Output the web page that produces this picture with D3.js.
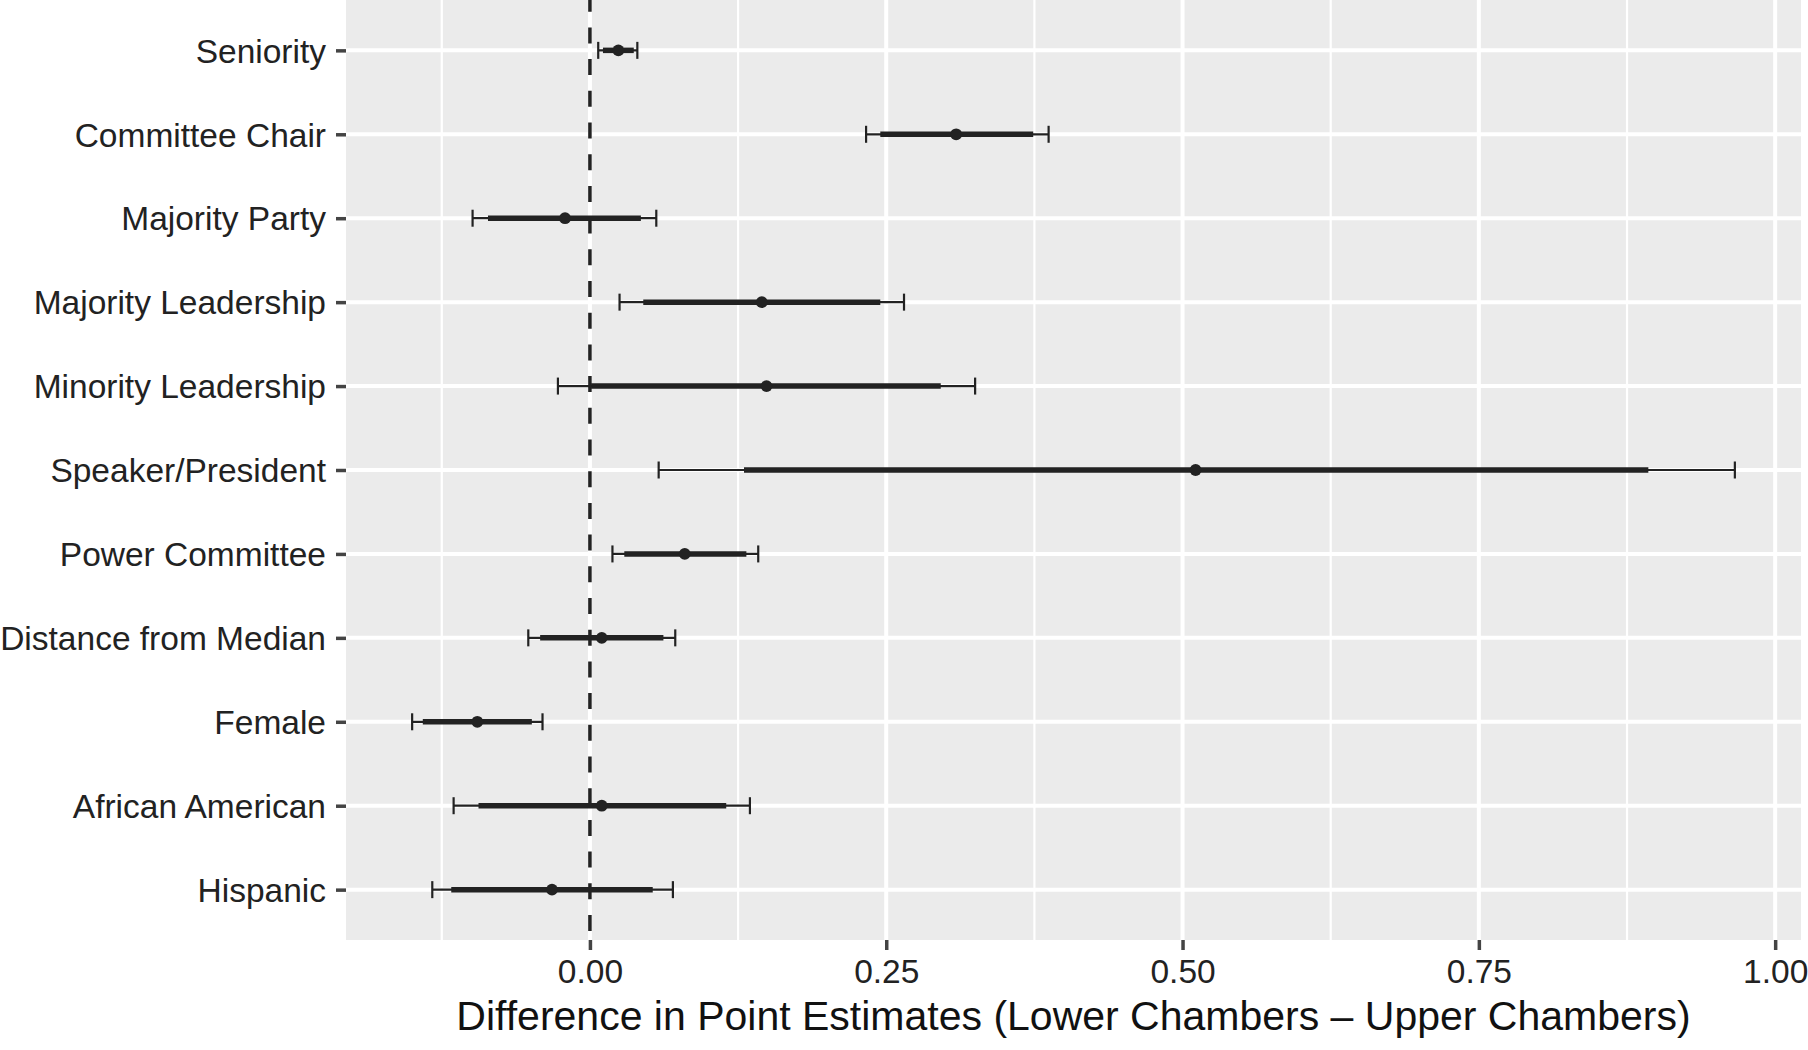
<!DOCTYPE html>
<html>
<head>
<meta charset="utf-8">
<script src="https://cdn.jsdelivr.net/npm/d3@7"></script>
<style>
    body { margin: 0; background: #fff; }
    text { font-family: "Liberation Sans", Arial, Helvetica, sans-serif; }
</style>
</head>
<body>
<div id="chart"></div>
<script>
// Variables, top to bottom
const labels = ["Seniority", "Committee Chair", "Majority Party", "Majority Leadership",
    "Minority Leadership", "Speaker/President", "Power Committee", "Distance from Median",
    "Female", "African American", "Hispanic"];

// point estimates and intervals (thick = inner, thin = outer with caps)
const estimate = [0.024, 0.309, -0.021, 0.145, 0.149, 0.511, 0.080, 0.010, -0.095, 0.010, -0.032];
const innerLow = [0.011, 0.245, -0.086, 0.045, 0.001, 0.130, 0.029, -0.042, -0.141, -0.094, -0.117];
const innerHigh = [0.037, 0.374, 0.043, 0.245, 0.296, 0.893, 0.132, 0.062, -0.049, 0.115, 0.053];
const outerLow = [0.007, 0.233, -0.099, 0.025, -0.027, 0.058, 0.019, -0.052, -0.150, -0.115, -0.133];
const outerHigh = [0.040, 0.387, 0.056, 0.265, 0.325, 0.966, 0.142, 0.072, -0.040, 0.135, 0.070];

const xTicks = [0, 0.25, 0.5, 0.75, 1];
const xMinor = [-0.125, 0.125, 0.375, 0.625, 0.875];
const xTitle = "Difference in Point Estimates (Lower Chambers \u2013 Upper Chambers)";

const width = 1808, height = 1050;
const panel = { left: 346, right: 1801, top: 0, bottom: 940 };
const ink = "#222";

var rows = labels.map((d, i) => ({
    label: d,
    est: estimate[i],
    lo90: innerLow[i],
    hi90: innerHigh[i],
    lo95: outerLow[i],
    hi95: outerHigh[i]
}));

// ggplot style 5% expansion of the data range
let dataMin = d3.min(outerLow), dataMax = d3.max(outerHigh);
let pad = (dataMax - dataMin) * 0.05;

const x = d3.scaleLinear()
    .domain([dataMin - pad, dataMax + pad])
    .range([panel.left, panel.right]);

const y = d3.scalePoint()
    .domain(labels)
    .range([panel.top, panel.bottom])
    .padding(0.6);

const svg = d3.select("#chart").append("svg")
    .attr("width", width)
    .attr("height", height);

// panel background
svg.append("rect")
    .attr("x", panel.left)
    .attr("y", panel.top)
    .attr("width", panel.right - panel.left)
    .attr("height", panel.bottom - panel.top)
    .attr("fill", "#ebebeb");

// grid
svg.selectAll(".minor")
    .data(xMinor)
    .enter().append("line")
    .attr("class", "minor")
    .attr("x1", d => x(d)).attr("x2", d => x(d))
    .attr("y1", panel.top).attr("y2", panel.bottom)
    .attr("stroke", "#fff")
    .attr("stroke-width", 2.2);

svg.selectAll(".majorX")
    .data(xTicks)
    .enter().append("line")
    .attr("class", "majorX")
    .attr("x1", d => x(d)).attr("x2", d => x(d))
    .attr("y1", panel.top).attr("y2", panel.bottom)
    .attr("stroke", "#fff")
    .attr("stroke-width", 4);

svg.selectAll(".majorY")
    .data(labels)
    .enter().append("line")
    .attr("class", "majorY")
    .attr("x1", panel.left).attr("x2", panel.right)
    .attr("y1", d => y(d)).attr("y2", d => y(d))
    .attr("stroke", "#fff")
    .attr("stroke-width", 4);

// reference line at zero
svg.append("line")
    .attr("x1", x(0)).attr("x2", x(0))
    .attr("y1", panel.top).attr("y2", panel.bottom)
    .attr("stroke", ink)
    .attr("stroke-width", 3.5)
    .attr("stroke-dasharray", "16,15.7")
    .attr("stroke-dashoffset", 4.3);

// outer interval with caps
let bars = svg.selectAll(".row")
    .data(rows)
    .enter().append("g")
    .attr("class", "row");

bars.append("line")
    .attr("x1", d => x(d.lo95)).attr("x2", d => x(d.hi95))
    .attr("y1", d => y(d.label)).attr("y2", d => y(d.label))
    .attr("stroke", ink)
    .attr("stroke-width", 2.2);

["lo95", "hi95"].forEach(k => {
    bars.append("line")
        .attr("x1", d => x(d[k])).attr("x2", d => x(d[k]))
        .attr("y1", d => y(d.label) - 8.5).attr("y2", d => y(d.label) + 8.5)
        .attr("stroke", ink)
        .attr("stroke-width", 2.2);
});

// inner interval
bars.append("line")
    .attr("x1", d => x(d.lo90)).attr("x2", d => x(d.hi90))
    .attr("y1", d => y(d.label)).attr("y2", d => y(d.label))
    .attr("stroke", ink)
    .attr("stroke-width", 5.5);

bars.append("circle")
    .attr("cx", d => x(d.est))
    .attr("cy", d => y(d.label))
    .attr("r", 5.9)
    .attr("fill", ink);

// axes
const xAxis = svg.append("g")
    .attr("transform", `translate(0,${panel.bottom})`)
    .call(d3.axisBottom(x).tickValues(xTicks).tickFormat(d3.format(".2f"))
        .tickSize(10).tickPadding(9).tickSizeOuter(0));

const yAxis = svg.append("g")
    .attr("transform", `translate(${panel.left},0)`)
    .call(d3.axisLeft(y).tickSize(10).tickPadding(10).tickSizeOuter(0));

[xAxis, yAxis].forEach(a => {
    a.select(".domain").remove();
    a.selectAll(".tick line").attr("stroke", "#444").attr("stroke-width", 3.5);
    a.selectAll(".tick text")
        .attr("fill", ink)
        .style("font-size", "33.5px")
        .style("font-family", "'Liberation Sans', Arial, Helvetica, sans-serif");
});

yAxis.selectAll(".tick text").attr("dy", "0.35em");

svg.append("text")
    .attr("x", (panel.left + panel.right) / 2)
    .attr("y", 1030)
    .attr("text-anchor", "middle")
    .attr("fill", "#111")
    .style("font-size", "41px")
    .text(xTitle);
</script>
</body>
</html>
